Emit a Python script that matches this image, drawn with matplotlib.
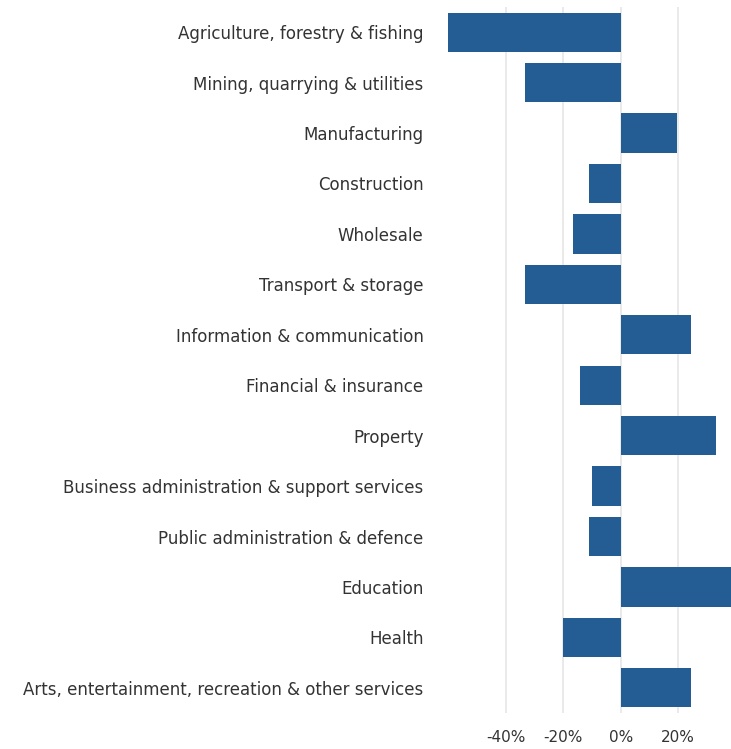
import matplotlib
matplotlib.use("Agg")
import matplotlib.pyplot as plt
from matplotlib.ticker import FuncFormatter

# Variation par secteur (en %)
secteurs = [
    "Agriculture, forestry & fishing",
    "Mining, quarrying & utilities",
    "Manufacturing",
    "Construction",
    "Wholesale",
    "Transport & storage",
    "Information & communication",
    "Financial & insurance",
    "Property",
    "Business administration & support services",
    "Public administration & defence",
    "Education",
    "Health",
    "Arts, entertainment, recreation & other services",
]
variations = [-60.3, -33.4, 19.5, -11.0, -16.7, -33.4, 24.7, -14.3, 33.4, -10.0, -11.1, 40.0, -20.0, 24.7]
graduations = [-40, -20, 0, 20]

plt.rcParams["font.family"] = ["DejaVu Sans"]

fig = plt.figure(figsize=(7.31, 7.49), dpi=100)
ax = fig.add_axes([443 / 731, 36 / 749, 288 / 731, 706 / 749])

positions = list(range(len(secteurs)))
ax.barh(positions, variations, height=0.78, color="#245d94", zorder=2)

ax.set_ylim(len(secteurs) - 0.5, -0.5)
ax.set_xlim(-62, 38.5)
ax.set_yticks(positions)
ax.set_yticklabels(secteurs, fontsize=12, color="#333333")
ax.set_xticks(graduations)
ax.xaxis.set_major_formatter(FuncFormatter(lambda v, p: f"{v:.0f}%"))
ax.tick_params(axis="x", labelsize=11, colors="#333333", length=0, pad=12)
ax.tick_params(axis="y", length=0, pad=14)

ax.grid(axis="x", color="#e6e6e6", linewidth=1.2, zorder=0)
for side in ax.spines.values():
    side.set_visible(False)

fig.savefig("out.png", dpi=100)
